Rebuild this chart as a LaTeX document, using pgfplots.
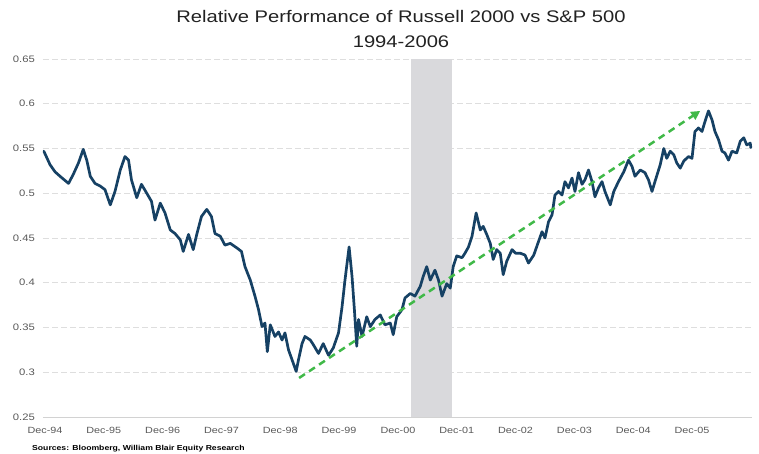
\documentclass[border=0pt]{standalone}
\usepackage{fontspec}
\setmainfont[FakeStretch=1.2]{Liberation Sans}
\usepackage{pgfplots}
\pgfplotsset{compat=1.18}
\usetikzlibrary{arrows.meta}
\definecolor{navy}{RGB}{22,65,100}
\definecolor{arrowgreen}{RGB}{64,185,72}
\definecolor{recgray}{RGB}{217,217,220}
\definecolor{gridgray}{RGB}{222,222,222}
\definecolor{axisgray}{RGB}{210,210,210}
\definecolor{ticktext}{RGB}{89,89,89}
\definecolor{titletext}{RGB}{34,34,34}
\begin{document}
\begin{tikzpicture}
\useasboundingbox (0,0) rectangle (759pt,453pt);
\begin{axis}[
  at={(43pt,36pt)}, anchor=south west,
  scale only axis, width=709pt, height=358pt,
  xmin=-0.034, xmax=12.02, ymin=0.25, ymax=0.65,
  axis x line*=bottom, axis y line*=left,
  y axis line style={draw=none},
  x axis line style={draw=axisgray, line width=1pt, -},
  tick style={draw=none},
  xtick={0,1,2,3,4,5,6,7,8,9,10,11},
  xticklabels={Dec-94,Dec-95,Dec-96,Dec-97,Dec-98,Dec-99,Dec-00,Dec-01,Dec-02,Dec-03,Dec-04,Dec-05},
  ytick={0.25,0.3,0.35,0.4,0.45,0.5,0.55,0.6,0.65},
  yticklabels={0.25,0.3,0.35,0.4,0.45,0.5,0.55,0.6,0.65},
  ymajorgrids,
  major grid style={gridgray, line width=0.9pt, dash pattern=on 6pt off 3pt},
  xticklabel style={font=\fontsize{9}{10}\selectfont, text=ticktext, anchor=north, inner sep=0pt, yshift=-10pt},
  yticklabel style={font=\fontsize{9.4}{10}\selectfont, text=ticktext, anchor=east, inner sep=0pt, xshift=-8pt},
]
% recession band
\addplot[fill=recgray, draw=none] coordinates {(6.23,0.25) (6.23,0.65) (6.92,0.65) (6.92,0.25)} -- cycle;
% relative performance
\addplot[navy, line width=2.7pt, line join=round, line cap=round] coordinates {
(-0.02,0.547) (0.085,0.532) (0.17,0.524) (0.255,0.519) (0.40,0.511) (0.48,0.521) (0.57,0.534) (0.65,0.549)
(0.71,0.537) (0.77,0.519) (0.85,0.511) (0.94,0.508) (1.02,0.504) (1.11,0.487) (1.19,0.502) (1.28,0.526)
(1.36,0.541) (1.42,0.537) (1.47,0.515) (1.56,0.495) (1.64,0.510) (1.73,0.500) (1.81,0.491) (1.87,0.470)
(1.96,0.489) (2.04,0.478) (2.13,0.459) (2.21,0.455) (2.30,0.448) (2.35,0.435) (2.44,0.454) (2.52,0.437)
(2.58,0.454) (2.66,0.474) (2.75,0.482) (2.83,0.474) (2.89,0.455) (2.98,0.452) (3.06,0.442) (3.15,0.444)
(3.26,0.439) (3.34,0.435) (3.40,0.418) (3.49,0.403) (3.57,0.385) (3.63,0.370) (3.69,0.351) (3.74,0.355)
(3.78,0.323) (3.83,0.353) (3.91,0.340) (3.97,0.345) (4.03,0.336) (4.08,0.344) (4.14,0.325) (4.20,0.314)
(4.27,0.301) (4.31,0.314) (4.37,0.332) (4.42,0.340) (4.51,0.336) (4.56,0.331) (4.65,0.321) (4.73,0.332)
(4.82,0.319) (4.90,0.327) (4.99,0.344) (5.05,0.373) (5.10,0.403) (5.17,0.440) (5.22,0.407) (5.26,0.370)
(5.30,0.329) (5.33,0.359) (5.39,0.340) (5.47,0.362) (5.53,0.351) (5.61,0.359) (5.70,0.364) (5.78,0.353)
(5.87,0.355) (5.92,0.342) (5.98,0.362) (6.07,0.370) (6.12,0.383) (6.21,0.388) (6.29,0.385) (6.38,0.396)
(6.43,0.407) (6.49,0.418) (6.55,0.403) (6.63,0.414) (6.69,0.403) (6.75,0.385) (6.83,0.399) (6.89,0.394)
(6.94,0.418) (7.00,0.430) (7.09,0.428) (7.14,0.433) (7.20,0.440) (7.26,0.452) (7.33,0.478) (7.40,0.459)
(7.45,0.463) (7.51,0.454) (7.57,0.444) (7.62,0.426) (7.68,0.437) (7.74,0.433) (7.79,0.409) (7.85,0.424)
(7.94,0.437) (8.00,0.433) (8.08,0.433) (8.16,0.431) (8.22,0.422) (8.31,0.431) (8.39,0.446) (8.45,0.457)
(8.50,0.450) (8.56,0.468) (8.62,0.476) (8.67,0.498) (8.73,0.502) (8.79,0.498) (8.84,0.513) (8.90,0.506)
(8.96,0.517) (9.01,0.502) (9.07,0.523) (9.13,0.510) (9.18,0.515) (9.24,0.526) (9.30,0.513) (9.35,0.496)
(9.41,0.506) (9.47,0.513) (9.52,0.502) (9.61,0.487) (9.67,0.502) (9.75,0.513) (9.84,0.524) (9.92,0.537)
(9.98,0.530) (10.03,0.519) (10.12,0.526) (10.20,0.523) (10.26,0.515) (10.32,0.502) (10.37,0.513) (10.46,0.532)
(10.52,0.550) (10.57,0.539) (10.63,0.547) (10.69,0.543) (10.74,0.534) (10.80,0.528) (10.86,0.536) (10.94,0.541)
(11.00,0.539) (11.05,0.569) (11.11,0.573) (11.17,0.569) (11.22,0.580) (11.28,0.592) (11.34,0.582) (11.39,0.569)
(11.45,0.560) (11.51,0.547) (11.56,0.545) (11.62,0.537) (11.68,0.547) (11.76,0.545) (11.82,0.558) (11.88,0.562)
(11.93,0.554) (11.99,0.556) (12.00,0.551)
};
% trend arrow
\addplot[arrowgreen, line width=2.5pt, dash pattern=on 7pt off 5pt,
  -{Triangle[length=9pt,width=9pt,sep=0pt]}] coordinates {(4.32,0.2936) (11.14,0.592)};
\end{axis}
\node[anchor=base, inner sep=0pt, text=titletext, font=\fontsize{16.8}{18}\selectfont] at (401pt,430pt) {Relative Performance of Russell 2000 vs S\&P 500};
\node[anchor=base, inner sep=0pt, text=titletext, font=\fontsize{16.8}{18}\selectfont] at (401pt,405pt) {1994-2006};
\node[anchor=base west, inner sep=0pt, font=\bfseries\fontsize{7.2}{8}\selectfont] at (32pt,3pt) {Sources: Bloomberg, William Blair Equity Research};
\end{tikzpicture}
\end{document}
